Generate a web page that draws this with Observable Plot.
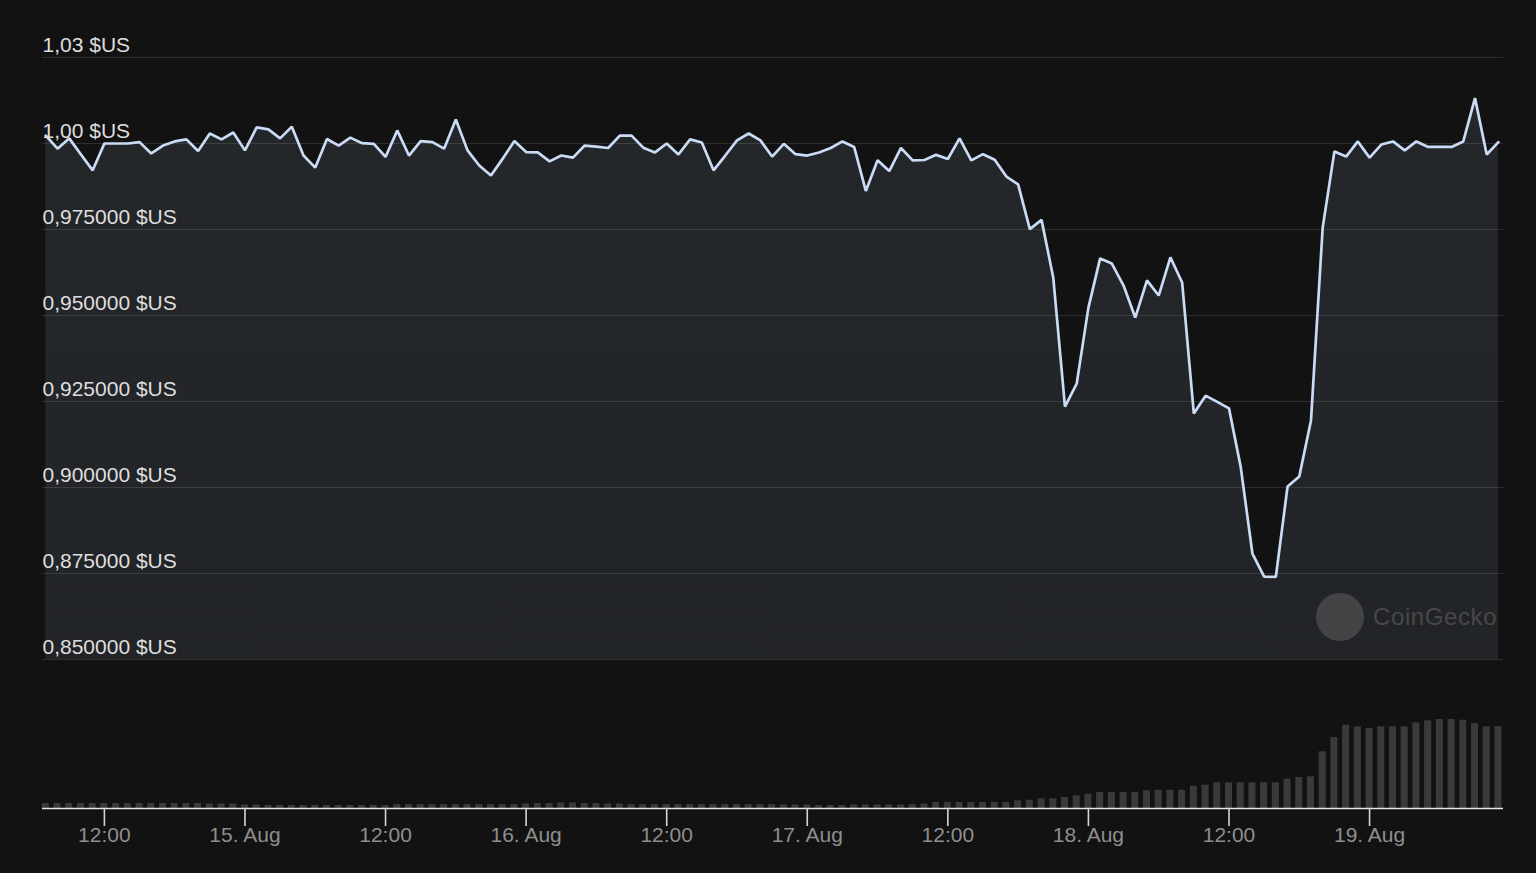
<!DOCTYPE html>
<html>
<head>
<meta charset="utf-8">
<script src="https://cdn.jsdelivr.net/npm/d3@7"></script>
<script src="https://cdn.jsdelivr.net/npm/@observablehq/plot@0.6"></script>
<style>
  html, body { margin: 0; padding: 0; background: #121212; }
  #wrap { position: relative; width: 1536px; height: 873px; background: #121212; overflow: hidden;
          font-family: "Liberation Sans", Arial, Helvetica, sans-serif; }
  #price, #volume { position: absolute; left: 0; }
  #price { top: 0; }
  #volume { top: 680px; }
  #mark { position: absolute; left: 1316px; top: 593px; display: flex; align-items: center; gap: 9px;
          color: rgba(110,110,110,0.5); font-size: 24px; font-weight: normal; letter-spacing: 0.6px; }
  #mark .dot { width: 48px; height: 48px; border-radius: 50%; background: rgba(100,100,100,0.5); }
</style>
</head>
<body>
<div id="wrap">
  <div id="price"></div>
  <div id="volume"></div>
  <div id="mark"><div class="dot"></div><span>CoinGecko</span></div>
</div>
<script>
// ---- Data (hourly, starting 14 Aug 07:00 UTC) ----
const startTime = "2023-08-14T07:00:00Z";
const prices = [
  1.0023, 0.9985, 1.0015, 0.9968, 0.9922, 1.0000, 1.0000, 1.0000, 1.0004, 0.9971,
  0.9994, 1.0006, 1.0012, 0.9978, 1.0029, 1.0012, 1.0032, 0.9980, 1.0047, 1.0041,
  1.0015, 1.0049, 0.9965, 0.9930, 1.0013, 0.9994, 1.0017, 1.0001, 0.9999, 0.9961,
  1.0038, 0.9965, 1.0007, 1.0004, 0.9985, 1.0070, 0.9980, 0.9936, 0.9907, 0.9956,
  1.0007, 0.9975, 0.9974, 0.9948, 0.9965, 0.9959, 0.9994, 0.9991, 0.9987, 1.0023,
  1.0023, 0.9988, 0.9974, 1.0000, 0.9968, 1.0012, 1.0003, 0.9922, 0.9965, 1.0009,
  1.0029, 1.0009, 0.9962, 0.9999, 0.9969, 0.9965, 0.9974, 0.9987, 1.0006, 0.9990,
  0.9862, 0.9951, 0.9920, 0.9987, 0.9951, 0.9952, 0.9967, 0.9955, 1.0015, 0.9951,
  0.9969, 0.9953, 0.9904, 0.9881, 0.9751, 0.9778, 0.9610, 0.9235, 0.9302, 0.9523,
  0.9666, 0.9651, 0.9587, 0.9494, 0.9602, 0.9558, 0.9669, 0.9596, 0.9215, 0.9267,
  0.9249, 0.9230, 0.9060, 0.8808, 0.8741, 0.8740, 0.9003, 0.9032, 0.9195, 0.9756,
  0.9977, 0.9962, 1.0006, 0.9959, 0.9997, 1.0006, 0.9980, 1.0006, 0.9990, 0.9990,
  0.9990, 1.0006, 1.0132, 0.9968, 1.0004
];
// trading volume (relative units, millions)
const volumes = [
  5, 5, 5, 5, 5, 5, 5, 5, 5, 5,
  5, 5, 5, 5, 4.5, 4.5, 4.5, 3.5, 3.5, 3,
  3, 3, 3, 3, 3, 3, 3, 3, 3, 3,
  4, 4, 4, 4, 4, 4, 4, 4, 4, 4,
  4, 4.5, 5, 5, 5.5, 5.5, 5, 5, 4.5, 4.5,
  4, 4, 4, 4, 4, 4, 4, 4, 4, 4,
  4, 4, 4, 3.5, 3.5, 3.5, 3, 3, 3, 3.5,
  3.5, 3.5, 3.5, 3.5, 4, 4.5, 6, 6, 6, 6,
  6, 6, 6, 7.7, 8.3, 9.7, 9.7, 11, 12.7, 14.3,
  16, 16, 16, 16, 17.7, 18.3, 18.3, 18.3, 22.3, 23.3,
  25.7, 25.7, 25.7, 25.7, 25.7, 25.7, 29.3, 31, 31.7, 56.7,
  71, 83.3, 81.7, 80, 81.7, 81.7, 81.7, 85.7, 87.7, 89,
  89, 88.3, 85, 81.7, 81.7
];
const yTicks = [0.85, 0.875, 0.9, 0.925, 0.95, 0.975, 1.0, 1.025];
const yTickLabels = ["0,850000 $US", "0,875000 $US", "0,900000 $US", "0,925000 $US",
                     "0,950000 $US", "0,975000 $US", "1,00 $US", "1,03 $US"];
const xDomain = ["2023-08-14T06:43:00Z", "2023-08-19T11:26:00Z"];
const xTicks = ["2023-08-14T12:00:00Z", "2023-08-15T00:00:00Z", "2023-08-15T12:00:00Z",
                "2023-08-16T00:00:00Z", "2023-08-16T12:00:00Z", "2023-08-17T00:00:00Z",
                "2023-08-17T12:00:00Z", "2023-08-18T00:00:00Z", "2023-08-18T12:00:00Z",
                "2023-08-19T00:00:00Z"];
const xTickLabels = ["12:00", "15. Aug", "12:00", "16. Aug", "12:00", "17. Aug",
                     "12:00", "18. Aug", "12:00", "19. Aug"];

// ---- build table ----
const t0 = new Date(startTime);
const data = prices.map((p, i) => ({
  date: d3.utcHour.offset(t0, i),
  price: p,
  volume: volumes[i]
}));
const xDom = xDomain.map(d => new Date(d));
const xTickDates = xTicks.map(d => new Date(d));
const xLabelOf = new Map(xTickDates.map((d, i) => [+d, xTickLabels[i]]));
const yLabelOf = new Map(yTicks.map((v, i) => [v, yTickLabels[i]]));

const FONT = '"Liberation Sans", Arial, Helvetica, sans-serif';
const lineColor = "#c9dbf5";

const gradientDefs = () => {
  const defs = d3.create("svg:defs");
  const g = defs.append("linearGradient").attr("id", "fillGrad")
    .attr("x1", 0).attr("x2", 0).attr("y1", 0).attr("y2", 1);
  g.append("stop").attr("offset", "0%").attr("stop-color", "#b8cff0").attr("stop-opacity", 0.11);
  g.append("stop").attr("offset", "100%").attr("stop-color", "#b8cff0").attr("stop-opacity", 0.012);
  return defs.node();
};

const pricePlot = Plot.plot({
  width: 1536, height: 680,
  marginLeft: 42, marginRight: 33, marginTop: 57, marginBottom: 21,
  style: { background: "transparent", color: "#dcdcdc", fontFamily: FONT },
  x: { type: "utc", domain: xDom, axis: null },
  y: { domain: [0.85, 1.025], axis: null },
  marks: [
    gradientDefs,
    Plot.gridY(yTicks, { stroke: "#2e2e2e", strokeOpacity: 1, strokeWidth: 1 }),
    Plot.areaY(data, { x: "date", y: "price", fill: "url(#fillGrad)", clip: true }),
    Plot.lineY(data, { x: "date", y: "price", stroke: lineColor, strokeWidth: 2.7, strokeLinejoin: "miter" }),
    Plot.axisY(yTicks, {
      anchor: "left", label: null, tickSize: 0, tickPadding: 0, textAnchor: "start", dy: -12,
      tickFormat: v => yLabelOf.get(v), fill: "#dedede", fontSize: 21
    })
  ]
});
document.getElementById("price").appendChild(pricePlot);

const volumePlot = Plot.plot({
  width: 1536, height: 193,
  marginLeft: 42, marginRight: 33, marginTop: 28, marginBottom: 65,
  style: { background: "transparent", color: "#8e8e8e", fontFamily: FONT },
  x: { type: "utc", domain: xDom },
  y: { domain: [0, 100], axis: null },
  marks: [
    Plot.rectY(data, {
      x1: d => d3.utcMinute.offset(d.date, -18),
      x2: d => d3.utcMinute.offset(d.date, 18),
      y: "volume", fill: "#3a3a3a"
    }),
    Plot.ruleY([0], { stroke: "#e4e4e4", strokeWidth: 1.6 }),
    Plot.axisX(xTickDates, {
      label: null, tickSize: 18, tickPadding: 1, stroke: "#d6d6d6", strokeWidth: 1.6,
      fill: "#8e8e8e", fontSize: 21, tickFormat: d => xLabelOf.get(+d)
    })
  ]
});
document.getElementById("volume").appendChild(volumePlot);
</script>
</body>
</html>
